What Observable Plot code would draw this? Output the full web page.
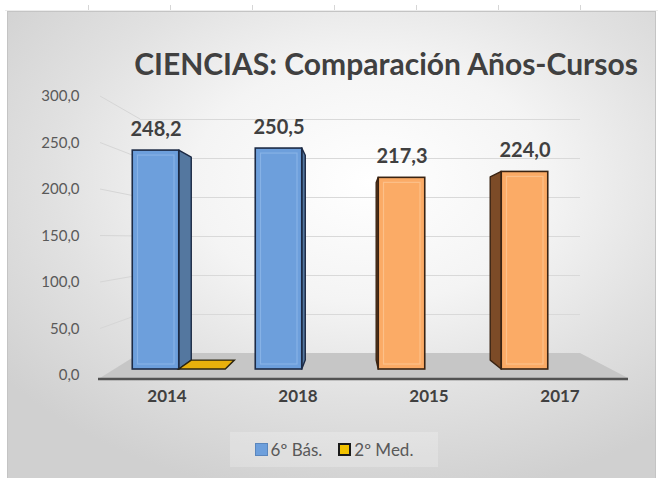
<!DOCTYPE html>
<html><head><meta charset="utf-8">
<script src="https://cdn.jsdelivr.net/npm/d3@7"></script>
<script src="https://cdn.jsdelivr.net/npm/@observablehq/plot@0.6"></script>
<style>
html,body{margin:0;padding:0;background:#fff;}
#page{position:relative;width:658px;height:478px;overflow:hidden;background:#fff;font-family:Lato,"Open Sans",sans-serif;}
#sheet{position:absolute;left:0;top:0;width:658px;height:11px;}
#chart{position:absolute;left:7px;top:11px;width:647px;height:470px;border:1px solid #c4c4c4;
 background:radial-gradient(ellipse 72% 68% at 56% 36%, #ffffff 0%, #f4f4f4 38%, #e1e1e1 68%, #d0d0d0 100%);}
.layer{position:absolute;left:0;top:0;}
#title{position:absolute;left:0;width:658px;top:45px;text-align:center;font-weight:bold;font-size:30px;line-height:36px;color:#404040;padding-left:114px;box-sizing:border-box;white-space:nowrap;}
#legend{position:absolute;left:230px;top:432px;width:208px;height:35px;background:rgba(255,255,255,0.22);display:flex;align-items:center;justify-content:center;font-size:17px;color:#595959;gap:0;}
.sw{display:inline-block;width:13px;height:13px;box-sizing:border-box;margin-right:3px;vertical-align:middle;}
.item{display:flex;align-items:center;margin:0 8px;}
</style></head>
<body><div id="page">
<div id="sheet"></div>
<div id="chart"></div>
<div id="title">CIENCIAS: Comparación Años-Cursos</div>
<div id="legend"></div>
</div>
<script>
// ---- data ----
const categories = ["2014", "2018", "2015", "2017"];
const basValues = [248.2, 250.5, 217.3, 224.0];      // 6º Bás. (front slot)
const medValues = [0, null, null, null];             // 2º Med.
const seriesNames = ["6º Bás.", "2º Med."];
const yTicks = [0, 50, 100, 150, 200, 250, 300];

// ---- styles ----
const warmCats = new Set(["2015", "2017"]);
const frontFill = c => warmCats.has(c) ? "#fbab66" : "#6d9fdc";
const edgeStroke = c => warmCats.has(c) ? "#3a2312" : "#1c2a45";
const sideFill = c => warmCats.has(c) ? "#7c4b27" : "#54779f";
const bevel = c => warmCats.has(c) ? "#fdc692" : "#8db6e8";
const medFill = "#e8b00c";
const fmt = v => d3.format(".1f")(v).replace(".", ",");
const W = 658, H = 478;

const basData = categories.map((c, i) => ({cat: c, v: basValues[i]}));
const medData = categories.map((c, i) => ({cat: c, v: medValues[i]})).filter(d => d.v != null);

const page = document.getElementById("page");
const baseStyle = {background: "transparent", overflow: "visible", fontFamily: "Lato, sans-serif"};

// spreadsheet cell lines above the chart
const sheet = d3.select("#sheet").append("svg").attr("width", W).attr("height", 11);
[88, 170, 252, 334, 416, 498, 580].forEach(x => sheet.append("line").attr("x1", x + .5).attr("x2", x + .5).attr("y1", 0).attr("y2", 11).attr("stroke", "#d6d6d6"));
sheet.append("line").attr("x1", 5).attr("x2", W).attr("y1", 5.5).attr("y2", 5.5).attr("stroke", "#ececec");

// ---- back wall (gridlines) ----
const wall = Plot.plot({
  width: W, height: H, marginTop: 119, marginBottom: 125, marginLeft: 140, marginRight: 78,
  x: {axis: null}, y: {domain: [0, 300], axis: null},
  style: baseStyle,
  marks: [Plot.ruleY(yTicks.filter(t => t > 0), {stroke: "#d9d9d9", strokeWidth: 1})]
});
wall.classList.add("layer");
page.appendChild(wall);

// ---- axes layer ----
const axes = Plot.plot({
  width: W, height: H, marginTop: 96, marginBottom: 103, marginLeft: 99, marginRight: 32,
  x: {domain: categories, type: "band", padding: 0, axis: null},
  y: {domain: [0, 300], ticks: yTicks, tickFormat: fmt, tickSize: 0, tickPadding: 20, label: null},
  style: {...baseStyle, fontSize: "15px", color: "#595959"},
  marks: [
    Plot.ruleY(yTicks, {strokeOpacity: 0}),
    Plot.text(categories, {x: d => d, frameAnchor: "bottom", dy: 26, fontWeight: "bold", fontSize: 17, fill: "#404040"})
  ]
});
axes.classList.add("layer");
page.appendChild(axes);

// floor + left wall lines, computed from the wall and axis scales
{
  const yA = axes.scale("y"), yW = wall.scale("y");
  const g = d3.select(wall).append("g");
  const wx0 = 140, wx1 = W - 78, fy = yA.apply(0) + 3;
  g.append("polygon")
    .attr("points", [[wx0, yW.apply(0)], [wx1, yW.apply(0)], [628, fy], [100, fy]].map(p => p.join(",")).join(" "))
    .attr("fill", "#c6c6c6");
  g.append("line").attr("x1", 98).attr("x2", 628).attr("y1", fy + 1).attr("y2", fy + 1).attr("stroke", "#525252").attr("stroke-width", 2.5);
  yTicks.filter(t => t > 0).forEach(t => g.append("line")
    .attr("x1", 100).attr("y1", yA.apply(t)).attr("x2", wx0).attr("y2", yW.apply(t))
    .attr("stroke", "#d6d6d6"));
}

// ---- bars layer ----
const bars = Plot.plot({
  width: W, height: H, marginTop: 104.4, marginBottom: 109, marginLeft: 93.25, marginRight: 70.75,
  x: {domain: categories, type: "band", padding: 0, axis: null},
  y: {domain: [0, 300], axis: null},
  color: {type: "identity"},
  style: baseStyle,
  marks: [
    Plot.barY(basData, {x: "cat", y: "v", fill: d => frontFill(d.cat), stroke: d => edgeStroke(d.cat), strokeWidth: 1.6, insetLeft: 38.25, insetRight: 38.25}),
    Plot.barY(basData, {x: "cat", y1: 0, y2: "v", fill: "none", stroke: d => bevel(d.cat), strokeWidth: 1.2, strokeOpacity: 0.8, insetLeft: 43.5, insetRight: 43, insetTop: 5, insetBottom: 5}),
    Plot.text(basData, {x: "cat", y: "v", text: d => fmt(d.v), dy: -21, fontWeight: "bold", fontSize: 20, fill: "#404040"})
  ]
});
bars.classList.add("layer");
page.appendChild(bars);

// 3D faces from the bars' scales
{
  const xs = bars.scale("x"), ys = bars.scale("y");
  const bw = xs.bandwidth, inset = 38.25;
  const V = [350, 247], t = 0.073;
  const P = (x, y) => [x + t * (V[0] - x), y + t * (V[1] - y)];
  const svg = d3.select(bars);
  const g = svg.insert("g", ":first-child");
  basData.forEach(d => {
    const xl = xs.apply(d.cat) + inset, xr = xs.apply(d.cat) + bw - inset;
    const yt = ys.apply(d.v), yb = ys.apply(0);
    const xe = xr < V[0] ? xr : (xl > V[0] ? xl : null);
    if (xe == null) return;
    const pts = [[xe, yt], P(xe, yt), P(xe, yb), [xe, yb]];
    g.append("polygon").attr("points", pts.map(p => p.join(",")).join(" "))
      .attr("fill", sideFill(d.cat)).attr("stroke", edgeStroke(d.cat)).attr("stroke-width", 1.4).attr("stroke-linejoin", "round");
  });
  const g2 = svg.append("g");
  medData.forEach(d => {
    const x0 = xs.apply(d.cat) + bw - inset, x1 = x0 + (bw - 2 * inset);
    const y0 = ys.apply(d.v);
    const pts = [[x0, y0], [x1, y0], P(x1, y0), P(x0, y0)];
    g2.append("polygon").attr("points", pts.map(p => p.join(",")).join(" "))
      .attr("fill", medFill).attr("stroke", "#2b2410").attr("stroke-width", 1.4);
  });
}

// ---- legend ----
const lg = d3.select("#legend");
[[seriesNames[0], "#6d9fdc", "#5a86bd", 1], [seriesNames[1], "#f2c200", "#1a1a1a", 2]].forEach(([name, f, s, sw]) => {
  const it = lg.append("div").attr("class", "item");
  it.append("span").attr("class", "sw").style("background", f).style("border", `${sw}px solid ${s}`);
  it.append("span").text(name);
});
</script>
</body></html>
